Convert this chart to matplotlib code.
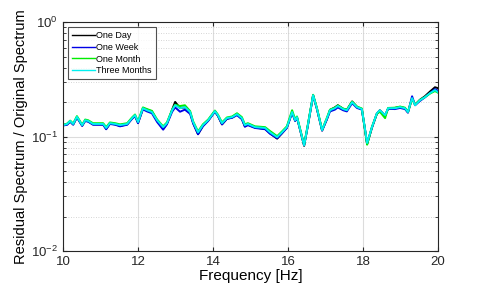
import matplotlib
matplotlib.use("Agg")
import matplotlib.pyplot as plt
from matplotlib.ticker import LogLocator, NullFormatter

# Frequency points [Hz]
freq = [10.00, 10.11, 10.19, 10.27, 10.37, 10.51, 10.59, 10.67, 10.80, 11.07,
        11.15, 11.25, 11.39, 11.52, 11.71, 11.84, 11.92, 12.00, 12.13, 12.24,
        12.37, 12.51, 12.67, 12.77, 12.91, 12.99, 13.12, 13.25, 13.39, 13.47,
        13.60, 13.73, 13.87, 14.05, 14.13, 14.24, 14.37, 14.51, 14.64, 14.77,
        14.85, 14.93, 15.12, 15.39, 15.52, 15.71, 15.84, 15.97, 16.11, 16.19,
        16.24, 16.43, 16.53, 16.67, 16.77, 16.91, 17.04, 17.12, 17.25, 17.33,
        17.47, 17.57, 17.71, 17.84, 17.97, 18.05, 18.11, 18.24, 18.37, 18.45,
        18.59, 18.67, 18.85, 18.99, 19.12, 19.20, 19.31, 19.39, 19.52, 19.65,
        19.79, 19.92, 20.00]

one_day = [0.126, 0.128, 0.136, 0.128, 0.148, 0.125, 0.138, 0.136, 0.128, 0.128,
           0.117, 0.130, 0.128, 0.124, 0.128, 0.144, 0.152, 0.132, 0.176, 0.172,
           0.166, 0.137, 0.117, 0.129, 0.172, 0.201, 0.178, 0.180, 0.162, 0.132,
           0.105, 0.124, 0.138, 0.166, 0.152, 0.128, 0.143, 0.147, 0.156, 0.143,
           0.123, 0.127, 0.120, 0.117, 0.107, 0.096, 0.107, 0.120, 0.163, 0.138,
           0.147, 0.083, 0.125, 0.230, 0.176, 0.113, 0.143, 0.171, 0.180, 0.188,
           0.175, 0.171, 0.203, 0.182, 0.174, 0.117, 0.086, 0.120, 0.159, 0.170,
           0.153, 0.176, 0.178, 0.182, 0.177, 0.163, 0.215, 0.190, 0.210, 0.225,
           0.248, 0.270, 0.265]

one_week = [0.125, 0.127, 0.135, 0.127, 0.147, 0.124, 0.137, 0.135, 0.127, 0.127,
            0.116, 0.129, 0.127, 0.123, 0.127, 0.143, 0.151, 0.131, 0.173, 0.166,
            0.160, 0.134, 0.115, 0.128, 0.165, 0.180, 0.165, 0.172, 0.158, 0.130,
            0.105, 0.123, 0.137, 0.165, 0.152, 0.128, 0.143, 0.146, 0.154, 0.142,
            0.122, 0.126, 0.119, 0.116, 0.106, 0.097, 0.107, 0.119, 0.162, 0.137,
            0.146, 0.084, 0.125, 0.228, 0.175, 0.113, 0.142, 0.166, 0.172, 0.180,
            0.170, 0.166, 0.196, 0.178, 0.172, 0.118, 0.087, 0.120, 0.158, 0.168,
            0.152, 0.175, 0.174, 0.178, 0.174, 0.162, 0.225, 0.188, 0.205, 0.220,
            0.240, 0.260, 0.252]

one_month = [0.127, 0.130, 0.138, 0.130, 0.151, 0.127, 0.141, 0.139, 0.131, 0.131,
             0.121, 0.133, 0.131, 0.128, 0.131, 0.147, 0.156, 0.136, 0.180, 0.174,
             0.168, 0.141, 0.123, 0.133, 0.172, 0.190, 0.185, 0.188, 0.167, 0.136,
             0.111, 0.128, 0.141, 0.169, 0.156, 0.133, 0.147, 0.150, 0.160, 0.148,
             0.128, 0.131, 0.123, 0.121, 0.112, 0.101, 0.111, 0.123, 0.170, 0.142,
             0.150, 0.085, 0.128, 0.232, 0.179, 0.115, 0.147, 0.172, 0.179, 0.187,
             0.176, 0.172, 0.202, 0.183, 0.176, 0.117, 0.085, 0.122, 0.158, 0.165,
             0.145, 0.178, 0.179, 0.183, 0.179, 0.165, 0.214, 0.190, 0.209, 0.221,
             0.238, 0.250, 0.242]

three_months = [0.126, 0.129, 0.137, 0.129, 0.149, 0.126, 0.139, 0.137, 0.129, 0.129,
                0.119, 0.131, 0.129, 0.126, 0.129, 0.145, 0.154, 0.134, 0.177, 0.170,
                0.164, 0.139, 0.121, 0.131, 0.170, 0.188, 0.177, 0.181, 0.164, 0.134,
                0.109, 0.126, 0.139, 0.167, 0.154, 0.131, 0.145, 0.148, 0.157, 0.145,
                0.126, 0.129, 0.121, 0.119, 0.109, 0.099, 0.109, 0.121, 0.164, 0.139,
                0.148, 0.084, 0.126, 0.230, 0.177, 0.114, 0.145, 0.170, 0.177, 0.185,
                0.174, 0.170, 0.200, 0.181, 0.174, 0.119, 0.088, 0.121, 0.160, 0.170,
                0.154, 0.177, 0.177, 0.181, 0.177, 0.164, 0.217, 0.188, 0.208, 0.221,
                0.240, 0.255, 0.245]

labels = ["One Day", "One Week", "One Month", "Three Months"]
colors = ["black", "#0000e6", "#00ee00", "#00f0f0"]

plt.rcParams["font.family"] = ["Liberation Sans", "DejaVu Sans"]

fig = plt.figure(figsize=(4.85, 2.91), dpi=100)
ax = fig.add_axes([0.130, 0.137, 0.773, 0.787])

for series, lab, col in zip([one_day, one_week, one_month, three_months], labels, colors):
    ax.plot(freq, series, color=col, lw=1.4, label=lab)

ax.set_yscale("log")
ax.set_xlim(10, 20)
ax.set_ylim(1e-2, 1)
ax.set_xticks([10, 12, 14, 16, 18, 20])
ax.yaxis.set_major_locator(LogLocator(base=10, numticks=5))
ax.yaxis.set_minor_locator(LogLocator(base=10, subs=range(2, 10), numticks=20))
ax.yaxis.set_minor_formatter(NullFormatter())

ax.grid(True, which="major", color="#dcdcdc", lw=0.8, ls="-")
ax.grid(True, which="minor", axis="y", color="#c8c8c8", lw=0.6, ls=(0, (1, 2)))
ax.set_axisbelow(True)

ax.tick_params(which="both", direction="in", top=True, right=True, colors="#262626",
               labelsize=9.5)
ax.tick_params(which="major", length=3)
ax.tick_params(which="minor", length=2)
for sp in ax.spines.values():
    sp.set_color("#262626")
    sp.set_linewidth(0.8)

ax.set_xlabel("Frequency [Hz]", fontsize=11, labelpad=1)
ax.set_ylabel("Residual Spectrum / Original Spectrum", fontsize=10.5, labelpad=2)

leg = ax.legend(loc="upper left", fontsize=6.5, frameon=True, fancybox=False,
                handlelength=2.5, borderpad=0.45, labelspacing=0.3,
                borderaxespad=0.55, handletextpad=0.2)
leg.get_frame().set_edgecolor("#262626")
leg.get_frame().set_linewidth(0.8)
for line in leg.get_lines():
    line.set_linewidth(1.0)

fig.savefig("out.png", dpi=100)
